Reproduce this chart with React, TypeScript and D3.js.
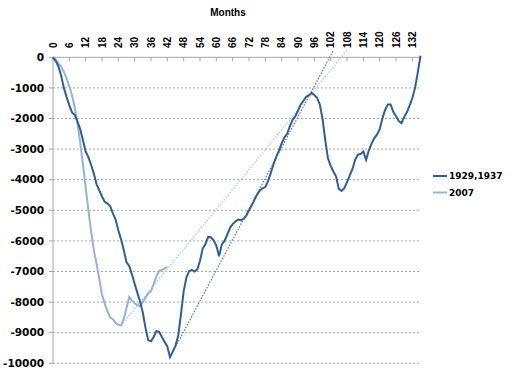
import React from "react";
import * as d3 from "d3";

// months since peak, 1929 / 1937 series (index = month)
const depression = [
  0, -120, -300, -600, -1000, -1300, -1570, -1800, -1890, -2100,
  -2350, -2700, -3080, -3260, -3520, -3800, -4150, -4350, -4550, -4720,
  -4780, -4860, -5100, -5300, -5650, -5950, -6300, -6700, -6820, -7100,
  -7400, -7700, -7980, -8350, -8850, -9250, -9280, -9130, -8950, -8970,
  -9140, -9300, -9450, -9800, -9620, -9420, -9100, -8400, -7650, -7200,
  -6990, -6950, -7000, -6930, -6650, -6250, -6100, -5870, -5880, -5980,
  -6150, -6500, -6120, -6000, -5800, -5580, -5450, -5370, -5300, -5320,
  -5280, -5180, -5000, -4840, -4660, -4480, -4350, -4280, -4240, -4040,
  -3780, -3500, -3250, -3050, -2810, -2620, -2500, -2260, -2040, -1930,
  -1740, -1540, -1420, -1290, -1240, -1170, -1230, -1320, -1540, -2000,
  -2700, -3300, -3550, -3730, -3900, -4300, -4370, -4280, -4080, -3870,
  -3650, -3350, -3180, -3160, -3080, -3350, -3050, -2820, -2650, -2530,
  -2350, -2000, -1720, -1540, -1540, -1780, -1930, -2080, -2150, -1950,
  -1800, -1580, -1330, -1000, -500, 50,
];

const recession = [
  0, -80, -200, -300, -480, -700, -950, -1250, -1650, -2150,
  -2800, -3500, -4250, -5000, -5700, -6300, -6750, -7250, -7750, -8050,
  -8300, -8500, -8560, -8680, -8740, -8760, -8550, -8200, -7830, -7950,
  -8040, -8100, -8130, -8000, -7850, -7720, -7640, -7400, -7150, -6980,
  -6950, -6900, -6850,
];

// linear trend lines, [month, value] end points
const trendDepression: [number, number][] = [[43, -9800], [103, 230]];
const trendRecession: [number, number][] = [[25, -8760], [108, 230]];

const monthTicks = d3.range(0, 133, 6);
const valueTicks = d3.range(0, -10001, -1000);
const seriesNames = ["1929,1937", "2007"];
const seriesColors = ["#2f5e99", "#95b3d7"];
const trendColors = ["#5277b3", "#a9c6ea"];

const width = 512;
const height = 372;

export default function App() {
  const x = d3.scaleLinear().domain([0, 135]).range([53, 420.5]);
  const y = d3.scaleLinear().domain([-10000, 0]).range([363.3, 57.3]);

  const line = d3
    .line<number>()
    .x((d, i) => x(i))
    .y((d) => y(d));
  const trend = d3
    .line<[number, number]>()
    .x((d) => x(d[0]))
    .y((d) => y(d[1]));

  const left = x(0);
  const right = x(135);

  return (
    <svg
      width={width}
      height={height}
      style={{ position: "absolute", left: 0, top: 0, background: "#fff" }}
    >
      {/* grid */}
      {valueTicks.slice(1).map((v) => (
        <line
          key={v}
          x1={left}
          x2={right}
          y1={y(v)}
          y2={y(v)}
          stroke="#a6a6a6"
          strokeDasharray="2,2"
        />
      ))}
      {/* y axis */}
      <line x1={left} x2={left} y1={y(0)} y2={y(-10000)} stroke="#a6a6a6" />
      {valueTicks.map((v) => (
        <g key={v}>
          <line x1={left - 4} x2={left} y1={y(v)} y2={y(v)} stroke="#a6a6a6" />
          <text
            x={44}
            y={y(v)}
            dy="0.36em"
            textAnchor="end"
            fontFamily="DejaVu Sans"
            fontWeight="bold"
            fontSize={10.5}
            fill="#000"
          >
            {v}
          </text>
        </g>
      ))}
      {/* top x axis */}
      <line x1={left} x2={right} y1={y(0)} y2={y(0)} stroke="#a6a6a6" />
      {monthTicks.map((m) => (
        <g key={m}>
          <line x1={x(m)} x2={x(m)} y1={y(0)} y2={y(0) + 4} stroke="#a6a6a6" />
          <text
            transform={`translate(${x(m)},48) rotate(-90)`}
            dy="0.36em"
            textAnchor="start"
            fontFamily="Liberation Sans"
            fontWeight="bold"
            fontSize={10}
            fill="#000"
          >
            {m}
          </text>
        </g>
      ))}
      <text
        x={228}
        y={15.5}
        textAnchor="middle"
        fontFamily="Liberation Sans"
        fontWeight="bold"
        fontSize={10}
        fill="#000"
      >
        Months
      </text>
      {/* trend lines */}
      <path
        d={trend(trendDepression) || ""}
        fill="none"
        stroke={trendColors[0]}
        strokeWidth={1.2}
        strokeDasharray="1.5,1.5"
      />
      <path
        d={trend(trendRecession) || ""}
        fill="none"
        stroke={trendColors[1]}
        strokeWidth={1.2}
        strokeDasharray="1.5,1.5"
      />
      {/* series */}
      <path d={line(recession) || ""} fill="none" stroke={seriesColors[1]} strokeWidth={2} />
      <path d={line(depression) || ""} fill="none" stroke={seriesColors[0]} strokeWidth={2} />
      {/* legend */}
      {seriesNames.map((name, i) => (
        <g key={name} transform={`translate(433,${176 + i * 16.5})`}>
          <line x1={0} x2={14} y1={0} y2={0} stroke={seriesColors[i]} strokeWidth={2} />
          <text
            x={16}
            y={0}
            dy="0.36em"
            fontFamily="DejaVu Sans"
            fontWeight="bold"
            fontSize={9}
            fill="#000"
          >
            {name}
          </text>
        </g>
      ))}
    </svg>
  );
}
